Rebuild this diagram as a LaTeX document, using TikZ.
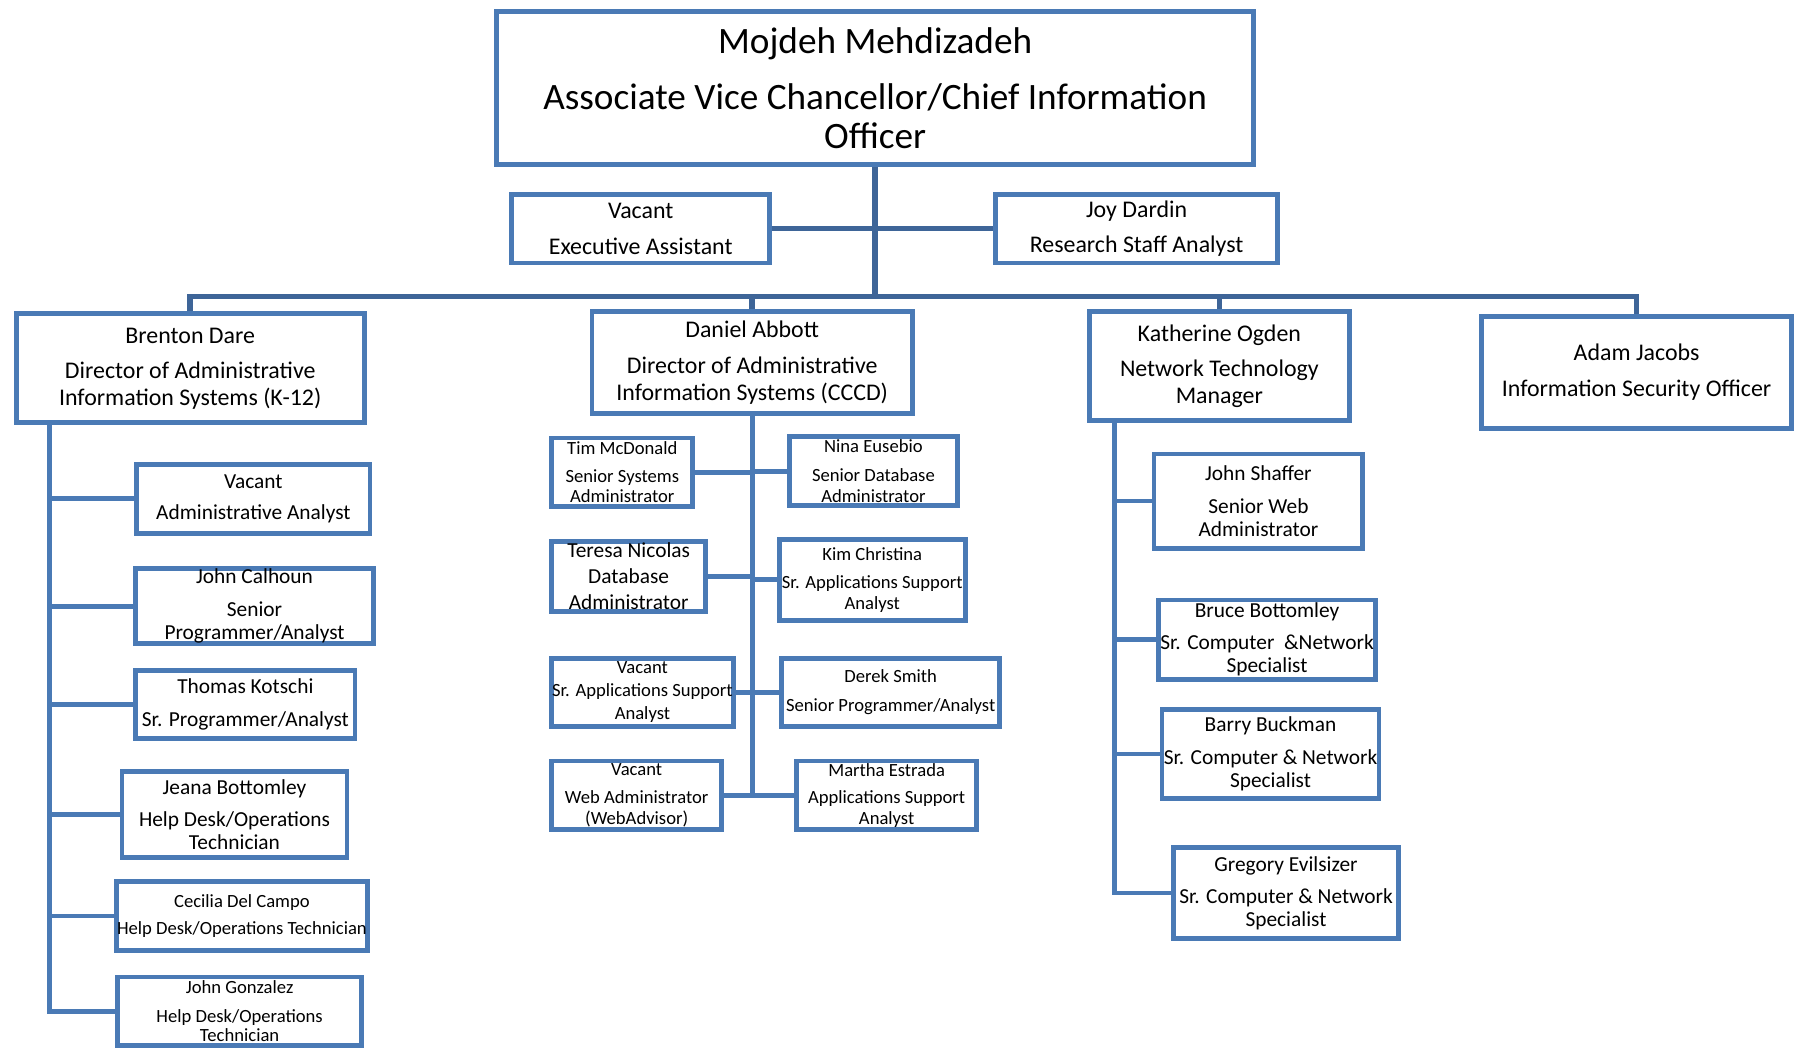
\documentclass[tikz,border=0pt]{standalone}
\usepackage{fontspec}
\setmainfont{Carlito}
\definecolor{boxc}{RGB}{74,122,181}
\definecolor{busc}{RGB}{62,101,152}
\tikzset{
 bx/.style={draw=boxc, line width=2.1pt, fill=white, inner sep=0pt, align=center},
 sz/.style 2 args={minimum width=#1*0.5pt-2.1pt, minimum height=#2*0.5pt-2.1pt},
 conn/.style={draw=boxc, line width=2.1pt},
 trunk/.style={draw=busc, line width=2.4pt},
 fA/.style={font=\fontsize{16.2}{17}\selectfont},
 fB/.style={font=\fontsize{10.4}{11.5}\selectfont},
 fC/.style={font=\fontsize{9.3}{10}\selectfont},
 fD/.style={font=\fontsize{8.1}{9}\selectfont},
}
\begin{document}
\begin{tikzpicture}[x=0.5pt,y=-0.5pt]
\fill[white] (0,0) rectangle (1568,912);
\useasboundingbox (0,0) rectangle (1568,912);

\node[bx,sz={663}{137},fA] (top) at (761.5,76.5) {Mojdeh Mehdizadeh\\[7.5pt]Associate Vice Chancellor/Chief Information\\Officer};
\node[bx,sz={229}{64},fB] (exec) at (557.5,199) {Vacant\\[4pt]Executive Assistant};
\node[bx,sz={250}{64},fB] (joy) at (989,199) {Joy Dardin\\[4pt]Research Staff Analyst};
\node[bx,sz={307}{99},fB] (bren) at (165.5,320.5) {Brenton Dare\\[4pt]Director of Administrative\\Information Systems (K-12)};
\node[bx,sz={283}{93},fB] (dan) at (654.5,315.5) {Daniel Abbott\\[4pt]Director of Administrative\\Information Systems (CCCD)};
\node[bx,sz={230}{99},fB] (kat) at (1061,318.5) {Katherine Ogden\\[4pt]Network Technology\\Manager};
\node[bx,sz={274}{102},fB] (adam) at (1424,324) {Adam Jacobs\\[4pt]Information Security Officer};

\node[bx,sz={207}{64},fC] (b1) at (220.5,434) {Vacant\\[3.5pt]Administrative Analyst};
\node[bx,sz={211}{69},fC] (b2) at (221.5,527.5) {John Calhoun\\[4.5pt]Senior\\Programmer/Analyst};
\node[bx,sz={195}{64},fC] (b3) at (213.5,613) {Thomas Kotschi\\[4pt]Sr. Programmer/Analyst};
\node[bx,sz={200}{79},fC] (b4) at (204,708.5) {Jeana Bottomley\\[4pt]Help Desk/Operations\\Technician};
\node[bx,sz={223}{64},fD] (b5) at (210.5,797) {Cecilia Del Campo\\[3pt]Help Desk/Operations Technician};
\node[bx,sz={217}{64},fD] (b6) at (208.5,880) {John Gonzalez\\[3.5pt]Help Desk/Operations\\[-0.5pt]Technician};

\node[bx,sz={127}{64},fD] (d1) at (541.5,411) {Tim McDonald\\[3pt]Senior Systems\\Administrator};
\node[bx,sz={150}{64},fD] (d2) at (760,410) {Nina Eusebio\\[3.5pt]Senior Database\\Administrator};
\node[bx,sz={138}{65},font=\fontsize{9.3}{11.25}\selectfont] (d3) at (547,501.5) {Teresa Nicolas\\Database\\Administrator};
\node[bx,sz={166}{75},fD] (d4) at (759,504.5) {Kim Christina\\[3.5pt]Sr. Applications Support\\Analyst};
\node[bx,sz={162}{63},font=\fontsize{8.1}{10}\selectfont] (d5) at (559,602.5) {Vacant\\Sr. Applications Support\\Analyst};
\node[bx,sz={194}{63},fD] (d6) at (775,602.5) {Derek Smith\\[3.5pt]Senior Programmer/Analyst};
\node[bx,sz={152}{64},fD] (d7) at (554,692) {Vacant\\[3pt]Web Administrator\\(WebAdvisor)};
\node[bx,sz={161}{64},fD] (d8) at (771.5,692) {Martha Estrada\\[3pt]Applications Support\\Analyst};

\node[bx,sz={186}{86},fC] (k1) at (1095,436) {John Shaffer\\[4pt]Senior Web\\Administrator};
\node[bx,sz={193}{73},fC] (k2) at (1102.5,556.5) {Bruce Bottomley\\[4pt]Sr. Computer\ \ \&Network\\Specialist};
\node[bx,sz={193}{82},fC] (k3) at (1105.5,656) {Barry Buckman\\[4.5pt]Sr. Computer \& Network\\Specialist};
\node[bx,sz={200}{84},fC] (k4) at (1119,777) {Gregory Evilsizer\\[4pt]Sr. Computer \& Network\\Specialist};

% trunk
\coordinate (bus) at (761.5,258);
\draw[trunk] (top.south) -- (bus);
\draw[trunk] (exec.east) -- (joy.west);
\draw[trunk] (bren.north) |- (bus) -| (adam.north);
\draw[trunk] (dan.north) -- (dan.north |- bus);
\draw[trunk] (kat.north) -- (kat.north |- bus);

% Brenton
\coordinate (bsp) at (43,880);
\draw[conn] (bsp |- bren.south) -- (bsp) -- (b6.west);
\foreach \n in {b1,b2,b3,b4,b5} \draw[conn] (\n.west) -- (\n.west -| bsp);

% Daniel
\coordinate (dsp) at (654.5,692);
\draw[conn] (dan.south) -- (dsp);
\foreach \n in {d1,d3,d5,d7} \draw[conn] (\n.east) -- (\n.east -| dsp);
\foreach \n in {d2,d4,d6,d8} \draw[conn] (\n.west) -- (\n.west -| dsp);

% Katherine
\coordinate (ksp) at (970,777);
\draw[conn] (ksp |- kat.south) -- (ksp) -- (k4.west);
\foreach \n in {k1,k2,k3} \draw[conn] (\n.west) -- (\n.west -| ksp);
\end{tikzpicture}
\end{document}
